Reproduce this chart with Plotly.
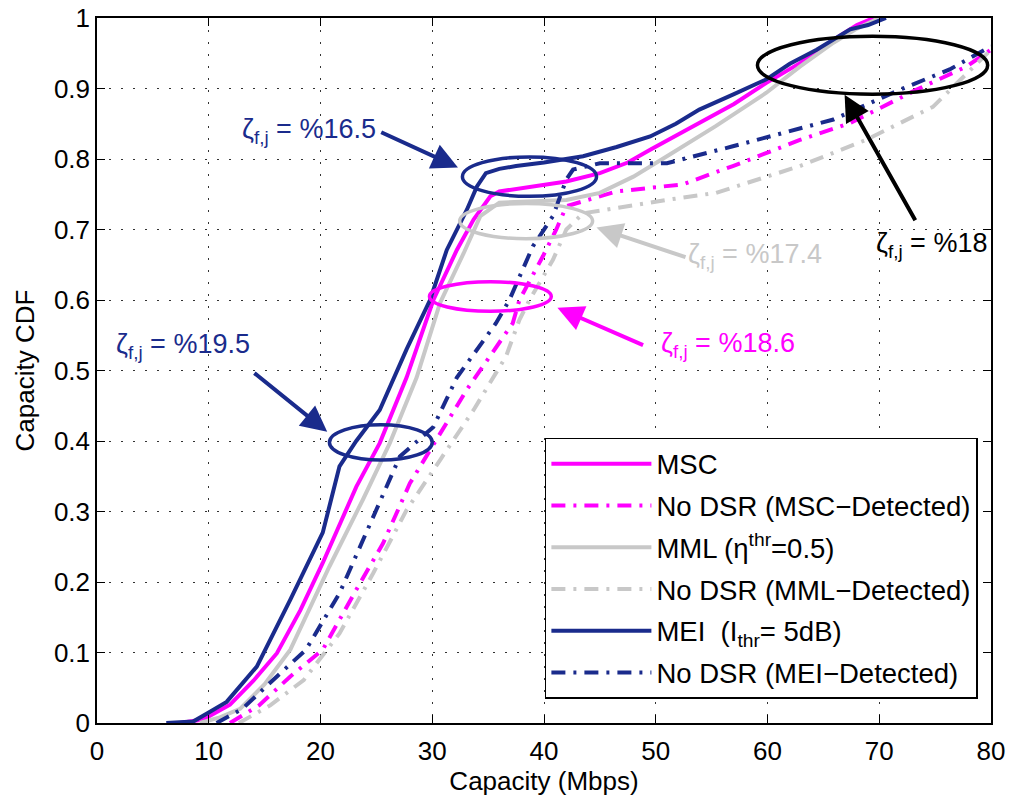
import plotly.graph_objects as go

# ---------------- data ----------------
msc_x = [7.4, 9.5, 11.9, 14.0, 16.1, 18.2, 20.2, 23.2, 25.3, 27.7, 30.1, 32.2, 33.7, 35.2, 36.0, 39.0, 42.0, 45.0, 47.5, 49.5, 53.9, 57.0, 59.9, 62.9, 65.9, 68.0, 69.5]
msc_y = [0.0, 0.005, 0.026, 0.06, 0.099, 0.16, 0.227, 0.335, 0.397, 0.49, 0.60, 0.671, 0.714, 0.747, 0.754, 0.761, 0.768, 0.78, 0.795, 0.813, 0.851, 0.878, 0.908, 0.936, 0.969, 0.99, 1.0]

msc_nodsr_x = [11.9, 14.5, 17.3, 20.2, 23.2, 25.6, 28.0, 30.4, 33.1, 37.2, 37.8, 39.9, 41.1, 42.0, 46.5, 52.4, 56.9, 62.9, 67.4, 73.3, 77.8, 80.0]
msc_nodsr_y = [0.0, 0.025, 0.066, 0.104, 0.189, 0.255, 0.34, 0.402, 0.473, 0.567, 0.60, 0.662, 0.70, 0.733, 0.754, 0.764, 0.79, 0.827, 0.851, 0.898, 0.931, 0.955]

mml_x = [9.2, 11.0, 12.8, 15.0, 17.3, 20.8, 23.8, 26.2, 28.6, 30.7, 32.8, 34.3, 36.0, 39.0, 42.0, 45.0, 48.0, 51.0, 55.4, 59.9, 62.9, 65.9, 68.0, 70.0]
mml_y = [0.0, 0.008, 0.02, 0.055, 0.104, 0.222, 0.317, 0.397, 0.49, 0.596, 0.666, 0.719, 0.738, 0.74, 0.742, 0.752, 0.775, 0.804, 0.847, 0.894, 0.931, 0.965, 0.985, 1.0]

mml_nodsr_x = [12.7, 15.5, 18.5, 21.7, 24.7, 27.7, 30.7, 33.7, 36.6, 37.8, 38.7, 40.8, 42.0, 43.5, 51.0, 55.4, 62.9, 68.8, 74.8, 80.0]
mml_nodsr_y = [0.0, 0.025, 0.061, 0.127, 0.212, 0.302, 0.373, 0.444, 0.52, 0.572, 0.60, 0.657, 0.70, 0.723, 0.742, 0.752, 0.79, 0.827, 0.874, 0.955]

mei_x = [6.2, 8.6, 10.0, 11.6, 14.3, 17.3, 20.2, 21.7, 23.2, 25.3, 27.7, 29.8, 31.3, 33.1, 34.0, 34.8, 36.0, 37.5, 40.0, 43.5, 46.5, 49.5, 51.8, 53.9, 57.0, 59.9, 62.0, 64.4, 67.4, 69.0, 70.6]
mei_y = [0.0, 0.002, 0.015, 0.03, 0.08, 0.175, 0.27, 0.364, 0.40, 0.444, 0.53, 0.60, 0.671, 0.728, 0.761, 0.78, 0.786, 0.79, 0.795, 0.804, 0.817, 0.832, 0.85, 0.87, 0.892, 0.913, 0.935, 0.955, 0.984, 0.99, 1.0]

mei_nodsr_x = [10.7, 13.0, 16.1, 18.7, 21.7, 24.1, 27.1, 30.1, 32.2, 35.7, 36.9, 39.0, 40.8, 42.0, 42.6, 45.0, 51.0, 56.9, 61.0, 65.9, 71.8, 76.3, 80.0]
mei_nodsr_y = [0.0, 0.02, 0.066, 0.104, 0.184, 0.269, 0.378, 0.42, 0.49, 0.567, 0.60, 0.676, 0.719, 0.771, 0.785, 0.794, 0.794, 0.818, 0.835, 0.856, 0.898, 0.927, 0.96]

series_names = [
    "MSC",
    "No DSR (MSC\u2212Detected)",
    "MML (\u03b7<sup>thr</sup>=0.5)",
    "No DSR (MML\u2212Detected)",
    "MEI  (I<sub>thr</sub>= 5dB)",
    "No DSR (MEI\u2212Detected)",
]

x_ticks = [0, 10, 20, 30, 40, 50, 60, 70, 80]
y_ticks = [0, 0.1, 0.2, 0.3, 0.4, 0.5, 0.6, 0.7, 0.8, 0.9, 1]

# annotation labels
labels = ["%16.5", "%19.5", "%17.4", "%18.6", "%18"]

# ---------------- styles ----------------
MAG = "#ff00ff"
GRAY = "#c8c8c8"
NAVY = "#1a2b8c"
BLACK = "#000000"
FONT = "Liberation Sans, Arial, Helvetica, sans-serif"
DASHDOT = "14px,8px,3px,8px"

series = [
    (msc_x, msc_y, MAG, "solid"),
    (msc_nodsr_x, msc_nodsr_y, MAG, DASHDOT),
    (mml_x, mml_y, GRAY, "solid"),
    (mml_nodsr_x, mml_nodsr_y, GRAY, DASHDOT),
    (mei_x, mei_y, NAVY, "solid"),
    (mei_nodsr_x, mei_nodsr_y, NAVY, DASHDOT),
]

fig = go.Figure()
for i, ((xs, ys, col, dash), name) in enumerate(zip(series, series_names)):
    fig.add_trace(go.Scatter(
        x=xs, y=ys, mode="lines", name=name,
        line=dict(color=col, width=4, dash=dash),
        legendgroup=f"g{i}",
    ))

# ellipses: (center x, center y, rx, ry, colour)
ellipses = [
    (38.7, 0.775, 6.0, 0.028, NAVY),
    (38.4, 0.712, 5.95, 0.025, GRAY),
    (35.2, 0.605, 5.45, 0.021, MAG),
    (25.4, 0.398, 4.6, 0.025, NAVY),
    (69.4, 0.933, 10.3, 0.041, BLACK),
]
for cx, cy, rx, ry, col in ellipses:
    fig.add_shape(type="circle", xref="x", yref="y",
                  x0=cx - rx, x1=cx + rx, y0=cy - ry, y1=cy + ry,
                  line=dict(color=col, width=3.5))

# arrows: (tail x, tail y, tip x, tip y, colour)
arrows = [
    (25.3, 0.839, 32.3, 0.788, NAVY),
    (13.95, 0.498, 20.6, 0.413, NAVY),
    (52.8, 0.660, 44.7, 0.703, GRAY),
    (49.0, 0.535, 41.2, 0.589, MAG),
    (73.3, 0.711, 66.9, 0.891, BLACK),
]
for tx, ty, hx, hy, col in arrows:
    fig.add_annotation(x=hx, y=hy, ax=tx, ay=ty, xref="x", yref="y",
                       axref="x", ayref="y", text="", showarrow=True,
                       arrowhead=2, arrowsize=1.3, arrowwidth=4,
                       arrowcolor=col, standoff=0)

# text labels: (left x, centre y, colour)
text_pos = [
    (12.8, 0.84, NAVY),
    (1.5, 0.535, NAVY),
    (52.7, 0.662, GRAY),
    (50.3, 0.536, MAG),
    (69.5, 0.678, BLACK),
]
for (lx, ly, col), lab in zip(text_pos, labels):
    fig.add_annotation(x=lx, y=ly, xref="x", yref="y",
                       text=f"\u03b6<sub>f,j</sub> = {lab}", showarrow=False,
                       xanchor="left", yanchor="middle",
                       font=dict(family=FONT, size=27, color=col))

axis_common = dict(
    showline=True, linecolor="black", linewidth=1.5, mirror="ticks",
    ticks="inside", ticklen=8, tickwidth=1, tickcolor="black",
    showgrid=True, gridcolor="#333333", gridwidth=1.3, griddash="2px,10px",
    zeroline=False, ticklabeloverflow="allow",
    tickfont=dict(family=FONT, size=26, color="black"),
)

fig.update_xaxes(range=[0, 80], tickvals=x_ticks, ticklabelstandoff=4,
                 title=dict(text="Capacity (Mbps)", font=dict(family=FONT, size=26, color="black"), standoff=3),
                 **axis_common)
fig.update_yaxes(range=[0, 1], tickvals=y_ticks,
                 title=dict(text="Capacity CDF", font=dict(family=FONT, size=26, color="black"), standoff=12),
                 **axis_common)

fig.update_layout(
    width=1013, height=799,
    margin=dict(l=97, r=22, t=18, b=76, autoexpand=False),
    paper_bgcolor="white", plot_bgcolor="white",
    font=dict(family=FONT, size=26, color="black"),
    showlegend=True,
    legend=dict(x=0.501, y=0.4045, xanchor="left", yanchor="top",
                bgcolor="white", bordercolor="black", borderwidth=1.5,
                font=dict(family=FONT, size=27.5, color="black"),
                itemwidth=100, tracegroupgap=3, traceorder="grouped"),
)

# remove the default page margin so the figure fills the window exactly
fig.write_html("out.html", config={"displayModeBar": False},
               post_script="document.body.style.margin='0';")
